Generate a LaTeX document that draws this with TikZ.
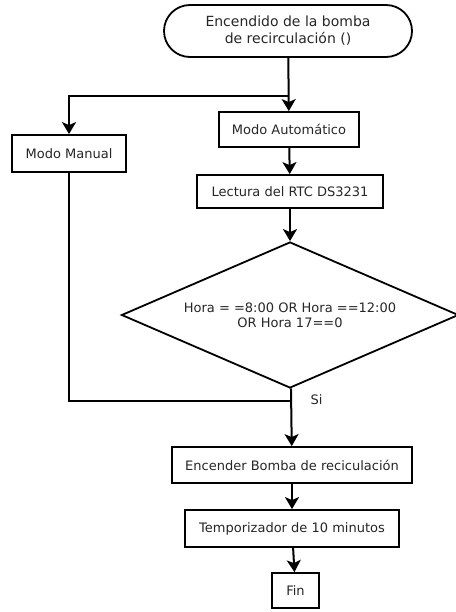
\documentclass[tikz,border=0pt]{standalone}
\usepackage{fontspec}
\setmainfont{DejaVu Sans}
\usetikzlibrary{arrows.meta,positioning,shapes}

\begin{document}
\begin{tikzpicture}[x=1pt, y=-1pt,
    box/.style={draw, line width=1.8pt, inner sep=0pt, text=black!85, align=center,
                font=\fontsize{13}{16}\selectfont},
    flow/.style={line width=2pt, -{Stealth[length=12pt, width=14pt, inset=3pt]}},
    link/.style={line width=2pt}]
    \useasboundingbox (0,0) rectangle (455,612);

    % Start
    \node[box, rounded rectangle, minimum width=248pt, minimum height=52pt,
          font=\fontsize{14}{17}\selectfont] (start) at (288,31)
        {Encendido de la bomba\\de recirculación ()};

    % Modes
    \node[box, minimum width=140pt, minimum height=35pt] (auto) at (289,129.5) {Modo Automático};
    \node[box, minimum width=114pt, minimum height=37pt] (manual) at (69,153.5) {Modo Manual};
    \node[box, minimum width=186pt, minimum height=33pt] (rtc) at (290,191.5) {Lectura del RTC DS3231};

    % Decision
    \node[box, diamond, aspect=2.3, minimum width=337pt, minimum height=146pt,
          font=\fontsize{13}{15}\selectfont] (cond) at (290,315)
        {Hora = =8:00 OR Hora ==12:00\\OR Hora 17==0};

    % Output
    \node[box, minimum width=240pt, minimum height=36pt] (pump) at (292,465) {Encender Bomba de reciculación};
    \node[box, minimum width=214pt, minimum height=37pt] (timer) at (292,528.5) {Temporizador de 10 minutos};
    \node[box, minimum width=47pt, minimum height=35pt] (fin) at (295.5,590.5) {Fin};

    % Connectors
    \coordinate (split) at (288,96);
    \coordinate (join) at (cond.south |- 0,401);
    \draw[flow] (start) -- (auto);
    \draw[flow] (split) -| (manual.north);
    \draw[flow] (auto) -- (rtc);
    \draw[flow] (rtc) -- (cond);
    \draw[flow] (cond) -- (pump);
    \draw[link] (manual.south) |- (join);
    \draw[flow] (pump) -- (timer);
    \draw[flow] (timer) -- (fin);
    \node[anchor=west, text=black!85, font=\fontsize{13}{15}\selectfont] (si) at (307,400) {Si};
\end{tikzpicture}
\end{document}
